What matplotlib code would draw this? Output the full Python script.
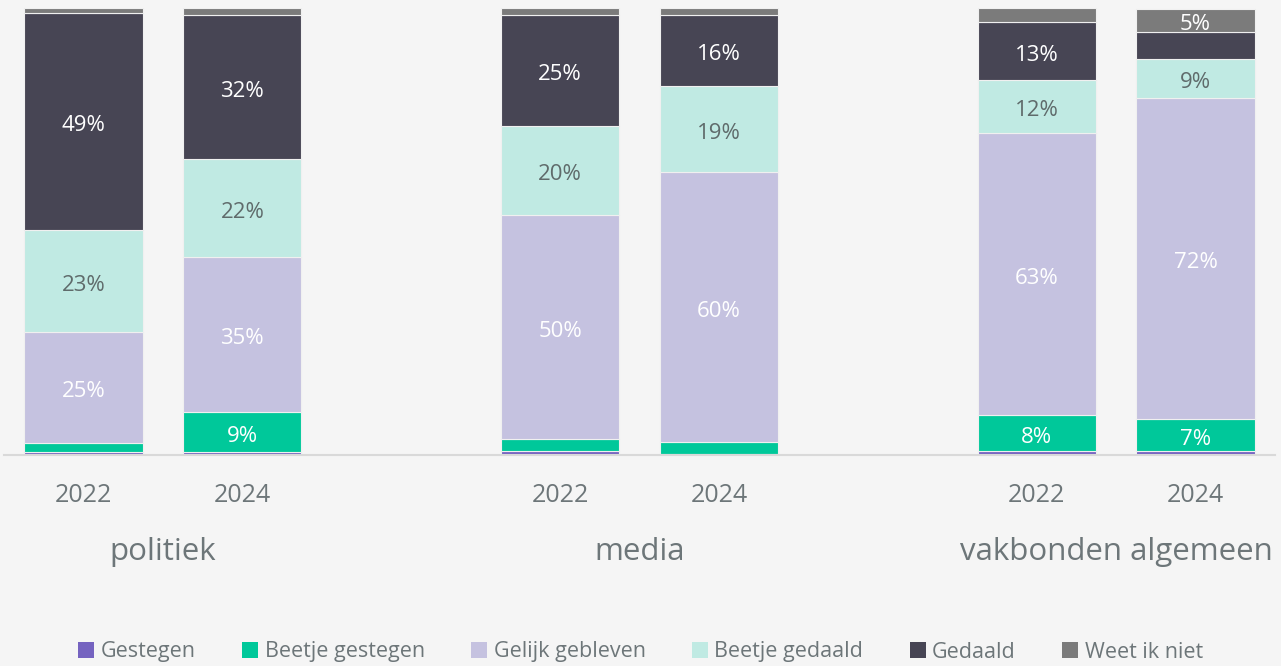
import matplotlib.pyplot as plt
import numpy as np
from matplotlib.patches import Patch

plt.rcParams['font.family'] = ['Open Sans', 'DejaVu Sans']

# data (percent)
groups = ['politiek', 'media', 'vakbonden algemeen']
years = ['2022', '2024', '2022', '2024', '2022', '2024']
categories = ['Gestegen', 'Beetje gestegen', 'Gelijk gebleven',
              'Beetje gedaald', 'Gedaald', 'Weet ik niet']
gestegen = [0.7, 0.7, 0.8, 0.3, 0.9, 0.9]
beetje_gestegen = [2.0, 8.9, 2.7, 2.6, 8.0, 7.1]
gelijk = [24.8, 34.7, 50.1, 60.4, 63.1, 71.8]
beetje_gedaald = [22.8, 21.9, 20.1, 19.2, 11.9, 8.9]
gedaald = [48.6, 32.2, 24.8, 15.9, 13.0, 6.0]
weet_niet = [1.1, 1.5, 1.5, 1.5, 3.1, 5.1]
# labels shown in the original (value, or None when not printed)
lab_beetje_gestegen = [None, 9, None, None, 8, 7]
lab_gelijk = [25, 35, 50, 60, 63, 72]
lab_beetje_gedaald = [23, 22, 20, 19, 12, 9]
lab_gedaald = [49, 32, 25, 16, 13, None]
lab_weet_niet = [None, None, None, None, None, 5]

series = [gestegen, beetje_gestegen, gelijk, beetje_gedaald, gedaald, weet_niet]
labels = [[None] * 6, lab_beetje_gestegen, lab_gelijk, lab_beetje_gedaald,
          lab_gedaald, lab_weet_niet]
colors = ['#7563C0', '#00C89A', '#C5C2E0', '#C0EAE3', '#474554', '#7B7B7B']
label_colors = ['white', 'white', 'white', '#5F6B6B', 'white', 'white']

bg = '#F5F5F5'
txt = '#6D7679'

fig = plt.figure(figsize=(12.81, 6.66), dpi=100, facecolor=bg)
ax = fig.add_axes([4 / 1281, 1 - 455 / 666, 1271 / 1281, 447 / 666])
ax.set_facecolor(bg)

x = np.array([0, 1, 3, 4, 6, 7])
bottom = np.zeros(6)
for vals, labs, col, lcol in zip(series, labels, colors, label_colors):
    vals = np.array(vals)
    ax.bar(x, vals, 0.745, bottom=bottom, color=col,
           edgecolor='#F0F0F0', linewidth=0.8)
    for xi, b, v, l in zip(x, bottom, vals, labs):
        if l is not None:
            ax.annotate(f'{l}%', (xi, b + v / 2), xytext=(0, -3),
                        textcoords='offset points', ha='center', va='center',
                        fontsize=16, color=lcol)
    bottom += vals

ax.set_xlim(-0.5, 7.5)
ax.set_ylim(0, 100)
for s in ['top', 'right', 'left']:
    ax.spines[s].set_visible(False)
ax.spines['bottom'].set_color('#D9D9D9')
ax.spines['bottom'].set_linewidth(1.5)
ax.set_yticks([])
ax.set_xticks(x)
ax.set_xticklabels(years, fontsize=18, color=txt)
ax.tick_params(axis='x', length=0, pad=20)

for gx, g in zip([0.5, 3.5, 6.5], groups):
    ax.text(gx, -21.8, g, ha='center', va='center', fontsize=22.5, color=txt,
            transform=ax.transData)

handles = [Patch(facecolor=c, edgecolor='none') for c in colors]
fig.legend(handles, categories, loc='center', bbox_to_anchor=(0.5, 1 - 652 / 666),
           ncol=6, frameon=False, fontsize=15.5, labelcolor=txt,
           handlelength=0.75, handleheight=0.75, handletextpad=0.3,
           columnspacing=2.15)

fig.savefig('out.png', dpi=100, facecolor=bg)
